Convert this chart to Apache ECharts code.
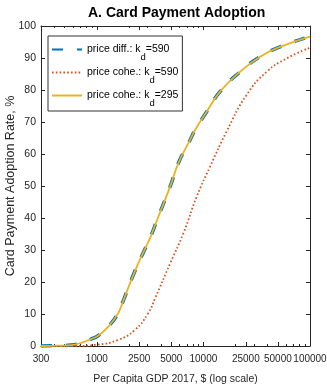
<!DOCTYPE html>
<html>
<head>
<meta charset="utf-8">
<script src="https://cdn.jsdelivr.net/npm/echarts@6/dist/echarts.min.js"></script>
<style>
html,body{margin:0;padding:0;background:#fff;}
#chart{width:327px;height:386px;}
</style>
</head>
<body>
<div id="chart"></div>
<script>
// ---- data ----
const titleText = 'A. Card Payment Adoption';
const xName = 'Per Capita GDP 2017, $ (log scale)';
const yName = 'Card Payment Adoption Rate, %';
const xMajorTicks = [300, 1000, 2500, 5000, 10000, 25000, 50000, 100000];
const xMinorTicks = [400, 500, 600, 700, 800, 900, 2000, 3000, 4000, 6000, 7000, 8000, 9000, 20000, 30000, 40000, 60000, 70000, 80000, 90000];
const yTicks = [0, 10, 20, 30, 40, 50, 60, 70, 80, 90, 100];

const legendMain = ['price diff.: k', 'price cohe.: k', 'price cohe.: k'];
const legendSub = ['d', 'd', 'd'];
const legendTail = ['=590', '=590', '=295'];
const seriesNames = ['price diff.: kd=590', 'price cohe.: kd=590', 'price cohe.: kd=295'];

// price diff., kd=590 (blue dashed)
const gdpDiff590 = [300, 434, 577, 716, 889, 1028, 1277, 1585, 1775, 2286, 2944, 3160, 3780, 4877, 5820, 7500, 8360, 10740, 14330, 22080, 34040, 52360, 100000];
const valDiff590 = [0, 0.1, 0.3, 1.0, 2.2, 3.2, 6.0, 10.2, 14.2, 23.5, 31.5, 33.7, 40.4, 49.8, 57.1, 64.4, 67.5, 73.2, 79.5, 85.7, 90.4, 93.5, 96.7];

// price cohe., kd=590 (red dotted)
const gdpCohe590 = [300, 600, 1000, 1585, 2272, 3030, 3525, 4877, 6490, 8670, 11540, 16500, 25470, 39240, 60560, 100000];
const valCohe590 = [0, 0, 0.4, 1.9, 5.0, 10.2, 14.9, 25.8, 35.2, 46.7, 56.0, 67.0, 78.5, 85.7, 89.9, 93.2];

// price cohe., kd=295 (yellow solid)
const gdpCohe295 = [300, 434, 577, 716, 889, 1028, 1277, 1585, 1775, 2286, 2944, 3160, 3780, 4877, 5820, 7500, 8360, 10740, 14330, 22080, 34040, 52360, 100000];
const valCohe295 = [0, 0.1, 0.3, 1.0, 2.2, 3.2, 6.0, 10.2, 14.2, 23.5, 31.5, 33.7, 40.4, 49.8, 57.1, 64.4, 67.5, 73.2, 79.5, 85.7, 90.4, 93.5, 96.7];

// ---- build ----
const zip = (xs, ys) => xs.map((x, i) => [x, ys[i]]);
const axisColor = '#262626';
const font = 'Liberation Sans, Arial, Helvetica, sans-serif';

const chart = echarts.init(document.getElementById('chart'), null, {renderer: 'canvas'});

function xAxisDef(pos, ticks, len, showLine, showLabel, name) {
  return {
    type: 'log', logBase: 10, min: 300, max: 100000, position: pos,
    gridIndex: 0,
    name: name || '',
    nameLocation: 'middle', nameGap: 28, nameMoveOverlap: false,
    nameTextStyle: {fontFamily: font, fontSize: 10.5, color: axisColor},
    axisLine: {show: showLine, onZero: false, lineStyle: {color: axisColor, width: 1}},
    axisTick: {show: true, inside: true, length: len, customValues: ticks, lineStyle: {color: axisColor, width: 1}},
    axisLabel: {show: showLabel, customValues: ticks, margin: 8, fontFamily: font, fontSize: 10, color: axisColor,
      hideOverlap: false, showMinLabel: true, showMaxLabel: true,
      formatter: v => String(Math.round(v))},
    splitLine: {show: false},
    minorTick: {show: false}
  };
}

const option = {
  animation: false,
  backgroundColor: '#fff',
  title: {
    text: titleText, left: 88, top: 6, padding: 0,
    textStyle: {fontFamily: font, fontSize: 14, fontWeight: 'bold', color: '#000'}
  },
  grid: {left: 41, right: 17, top: 26, bottom: 40, containLabel: false, outerBoundsMode: 'none'},
  legend: {
    orient: 'vertical', left: 48, top: 36,
    padding: [1, 4, 3, 3],
    itemWidth: 30, itemHeight: 14, itemGap: -2,
    backgroundColor: '#fff', borderColor: '#333', borderWidth: 1, borderRadius: 0,
    itemStyle: {opacity: 0},
    data: seriesNames,
    formatter: name => {
      const i = seriesNames.indexOf(name);
      return '{n|' + legendMain[i] + '}{s|' + legendSub[i] + '}{n|' + legendTail[i] + '}';
    },
    textStyle: {
      fontFamily: font, color: '#000',
      rich: {
        n: {fontFamily: font, fontSize: 10.5, lineHeight: 13, color: '#000'},
        s: {fontFamily: font, fontSize: 9.5, lineHeight: 10, padding: [15, 0, 0, 0], color: '#000'}
      }
    }
  },
  xAxis: [
    xAxisDef('bottom', xMajorTicks, 4, true, true, xName),
    xAxisDef('top', xMajorTicks, 4, true, false),
    xAxisDef('bottom', xMinorTicks, 2, false, false),
    xAxisDef('top', xMinorTicks, 2, false, false)
  ],
  yAxis: [
    {
      type: 'value', min: 0, max: 100, interval: 10, position: 'left',
      name: yName, nameLocation: 'middle', nameGap: 24, nameRotate: 90, nameMoveOverlap: false,
      nameTextStyle: {fontFamily: font, fontSize: 12.5, color: axisColor},
      axisLine: {show: true, lineStyle: {color: axisColor, width: 1}},
      axisTick: {show: true, inside: true, length: 4, lineStyle: {color: axisColor}},
      axisLabel: {margin: 5, fontFamily: font, fontSize: 10.5, color: axisColor,
        formatter: v => (yTicks.indexOf(v) >= 0 ? String(v) : '')},
      splitLine: {show: false}
    },
    {
      type: 'value', min: 0, max: 100, interval: 10, position: 'right',
      axisLine: {show: true, lineStyle: {color: axisColor, width: 1}},
      axisTick: {show: true, inside: true, length: 4, lineStyle: {color: axisColor}},
      axisLabel: {show: false},
      splitLine: {show: false}
    }
  ],
  series: [
    {
      name: seriesNames[0], type: 'line', xAxisIndex: 0, yAxisIndex: 0,
      data: zip(gdpDiff590, valDiff590), showSymbol: false, symbol: 'none',
      smooth: 0.5,
      lineStyle: {color: '#0072BD', width: 3.5, type: [11, 14], cap: 'butt'},
      itemStyle: {color: '#0072BD'}, z: 2
    },
    {
      name: seriesNames[1], type: 'line', xAxisIndex: 0, yAxisIndex: 0,
      data: zip(gdpCohe590, valCohe590), showSymbol: false, symbol: 'none',
      smooth: 0.5,
      lineStyle: {color: '#D95319', width: 1.8, type: [1.6, 2.2]},
      itemStyle: {color: '#D95319'}, z: 3
    },
    {
      name: seriesNames[2], type: 'line', xAxisIndex: 0, yAxisIndex: 0,
      data: zip(gdpCohe295, valCohe295), showSymbol: false, symbol: 'none',
      smooth: 0.5,
      lineStyle: {color: '#EDB120', width: 1.8, type: 'solid'},
      itemStyle: {color: '#EDB120'}, z: 4
    }
  ]
};
chart.setOption(option);
</script>
</body>
</html>
